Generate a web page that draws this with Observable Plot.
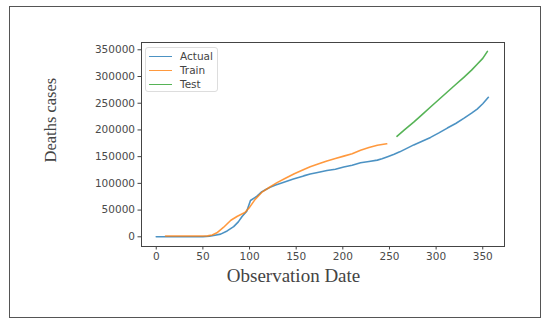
<!DOCTYPE html>
<html><head><meta charset="utf-8">
<script src="https://cdn.jsdelivr.net/npm/d3@7"></script>
<script src="https://cdn.jsdelivr.net/npm/@observablehq/plot@0.6"></script>
<style>
body{margin:0;background:#fff;}
#wrap{position:relative;width:550px;height:325px;overflow:hidden;background:#fff;}
#border{position:absolute;left:9px;top:6px;width:532px;height:312px;border:1.5px solid #555;box-sizing:border-box;pointer-events:none;}
#legend{position:absolute;left:145px;top:47px;width:73px;height:45px;border:1px solid #ddd;border-radius:3px;background:#fff;box-sizing:border-box;font-family:"DejaVu Sans",sans-serif;font-size:10.5px;color:#444;}
.row{position:absolute;left:0;height:14px;width:100%;}
.sw{position:absolute;left:3px;width:23px;height:1.6px;top:6.5px;opacity:0.8;}
.lb{position:absolute;left:34px;top:0;line-height:14px;}
#chart{position:absolute;left:0;top:0;}
</style></head><body>
<div id="wrap"><div id="chart"></div><div id="legend"></div><div id="border"></div></div>
<script>
const seriesNames = ["Actual", "Train", "Test"];
const seriesColors = ["#1f77b4", "#ff7f0e", "#2ca02c"];

const actualDays   = [0,10,20,30,40,50,57,63,69,76,83,88,92,97,101,108,113,118,122,128,136,147,158,165,173,183,192,201,210,219,228,237,242,248,255,261,268,276,285,294,303,312,321,330,338,344,350,356];
const actualDeaths = [0,0,0,0,0,0,1000,3000,5000,11000,19000,28000,38000,48000,68000,76000,84000,89000,92500,97000,101500,108000,114000,117500,120500,124000,126500,130500,134000,138500,141000,143500,146000,150000,154700,159000,165000,172000,179000,186000,194500,203500,212000,222000,231500,239000,249000,261000];

const trainDays   = [10,20,30,40,50,55,60,65,72,80,87,95,100,106,113,121,129,139,148,157,165,175,183,192,201,210,219,228,237,247];
const trainDeaths = [1500,1500,1500,1500,1500,1800,3500,7500,17500,31000,38500,45500,55000,70000,83000,92300,101000,110000,118000,125000,131000,137000,142000,146500,151000,155500,162000,167000,171500,174000];

const testDays   = [258,266,276,285,294,303,312,321,330,338,344,350,355];
const testDeaths = [188000,200000,214500,228500,243000,257000,271000,285000,299000,312000,323000,334000,347000];

const xTicks = [0,50,100,150,200,250,300,350];
const yTicks = [0,50000,100000,150000,200000,250000,300000,350000];
const xLabel = "Observation Date";
const yLabel = "Deaths cases";

const rows = [];
[[actualDays,actualDeaths,"Actual"],[trainDays,trainDeaths,"Train"],[testDays,testDeaths,"Test"]]
  .forEach(([ds,vs,name]) => ds.forEach((d,i) => rows.push({series:name, day:d, deaths:vs[i]})));

const chart = Plot.plot({
  width: 550, height: 325,
  marginLeft: 141, marginRight: 46, marginTop: 42, marginBottom: 79,
  x: {domain: [-15.8, 373.3]},
  y: {domain: [-18150, 363650]},
  color: {domain: seriesNames, range: seriesColors},
  style: {fontFamily: "DejaVu Sans, sans-serif", fontSize: "10.5px", color: "#4a4a4a", background: "transparent"},
  marks: [
    Plot.axisX(xTicks, {tickSize: 3.5, tickPadding: 3, label: null, stroke: "#444"}),
    Plot.axisY(yTicks, {tickSize: 3.5, tickPadding: 3, label: null, tickFormat: d => String(d), stroke: "#444"}),
    Plot.line(rows, {x: "day", y: "deaths", z: "series", stroke: "series", strokeWidth: 1.6, strokeOpacity: 0.8}),
    Plot.frame({stroke: "#444", strokeWidth: 1}),
    Plot.text([xLabel], {frameAnchor: "bottom", dx: -29.5, dy: 35, fontFamily: "Liberation Serif, serif", fontSize: 19, fill: "#444"}),
    Plot.text([yLabel], {frameAnchor: "left", rotate: -90, dx: -91, dy: 18, fontFamily: "Liberation Serif, serif", fontSize: 16.5, fill: "#444"})
  ]
});
document.getElementById("chart").appendChild(chart);

const lg = document.getElementById("legend");
seriesNames.forEach((n, i) => {
  const r = document.createElement("div");
  r.className = "row"; r.style.top = (1 + i * 14) + "px";
  r.innerHTML = `<div class="sw" style="background:${seriesColors[i]}"></div><div class="lb">${n}</div>`;
  lg.appendChild(r);
});
</script>
</body></html>
